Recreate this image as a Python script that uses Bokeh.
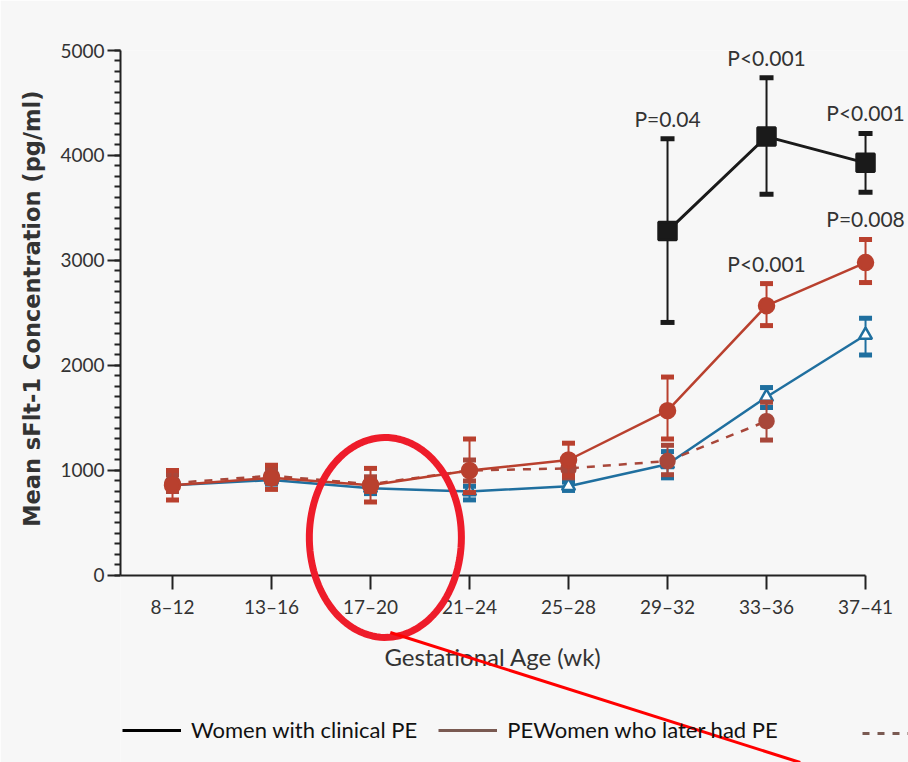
import numpy as np
from bokeh.plotting import figure
from bokeh.models import (ColumnDataSource, FixedTicker, SingleIntervalTicker, Range1d,
                          LabelSet, Legend, LegendItem, PolyAnnotation, Arrow, Title)
from bokeh.core.properties import value
from bokeh.embed import file_html
from bokeh.resources import INLINE

# ---------------- data ----------------
weeks = ["8–12", "13–16", "17–20", "21–24", "25–28", "29–32", "33–36", "37–41"]
week_idx = list(range(len(weeks)))

# Women with clinical PE (black squares)
clin_idx = [5, 6, 7]
clin_mean = [3280, 4180, 3930]
clin_lo = [2410, 3630, 3650]
clin_hi = [4160, 4740, 4210]

# Women who later had PE (red circles, solid)
later_mean = [860, 930, 860, 1000, 1100, 1570, 2570, 2980]
later_lo = [720, 820, 700, 790, 950, 1300, 2380, 2790]
later_hi = [1000, 1050, 1020, 1300, 1260, 1890, 2780, 3200]

# third group (red circles, dashed)
gh_idx = [0, 1, 2, 3, 4, 5, 6]
gh_mean = [880, 950, 870, 1000, 1020, 1090, 1470]
gh_lo = [800, 880, 800, 900, 930, 960, 1290]
gh_hi = [960, 1020, 940, 1100, 1110, 1240, 1650]

# controls (blue triangles)
ctrl_mean = [860, 910, 830, 800, 850, 1060, 1700, 2290]
ctrl_lo = [820, 870, 780, 720, 810, 930, 1600, 2100]
ctrl_hi = [900, 950, 870, 850, 890, 1180, 1790, 2450]

# P-value annotations
p_x = [5, 6, 7, 7, 6]
p_y = [4160, 4740, 4210, 3200, 2780]
p_text = ["P=0.04", "P<0.001", "P<0.001", "P=0.008", "P<0.001"]

# legend labels
legend_labels = ["Women with clinical PE", "PEWomen who later had PE", " "]

# red highlight ellipse (overlay) in data units
ell_cx, ell_cy, ell_rx, ell_ry = 2.15, 362, 0.768, 952
arrow_x0, arrow_y0, arrow_x1, arrow_y1 = 2.2, -543, 6.34, -1781

# ---------------- style ----------------
BG = "#f7f7f7"
FONT = "Lato"
BLACK = "#1a1a1a"
RED = "#b9402e"
REDL = "#a8473a"
BLUE = "#1f6f9f"
TXT = "#333333"
LEGBROWN = "#7a5a52"

p = figure(width=908, height=762, x_range=Range1d(-0.5253, 7.434), y_range=Range1d(-1781, 5000),
           output_backend="svg", toolbar_location=None,
           min_border_left=120, min_border_right=0, min_border_top=50, min_border_bottom=0,
           background_fill_color=BG, border_fill_color=BG, outline_line_color=None)
p.xgrid.visible = False
p.ygrid.visible = False

# axes
p.xaxis.fixed_location = 0
p.xaxis.bounds = (-0.5253, 7)
p.yaxis.bounds = (0, 5000)
p.xaxis.ticker = FixedTicker(ticks=week_idx)
p.xaxis.major_label_overrides = {i: w for i, w in zip(week_idx, weeks)}
p.yaxis.ticker = SingleIntervalTicker(interval=1000, num_minor_ticks=10)
for ax in (p.xaxis[0], p.yaxis[0]):
    ax.axis_line_color = "#222222"
    ax.axis_line_width = 2
    ax.major_tick_line_color = "#222222"
    ax.major_tick_line_width = 2
    ax.major_tick_in = 0
    ax.major_label_text_font = FONT
    ax.major_label_text_font_size = "19px"
    ax.major_label_text_color = TXT
    ax.axis_label_text_color = TXT
p.xaxis.major_tick_out = 14
p.xaxis.minor_tick_line_color = None
p.xaxis.major_label_standoff = 6
p.xaxis.axis_label = "Gestational Age (wk)"
p.xaxis.axis_label_text_font = FONT
p.xaxis.axis_label_text_font_size = "24px"
p.xaxis.axis_label_text_font_style = "normal"
p.xaxis.axis_label_standoff = 20

p.yaxis.major_tick_out = 13
p.yaxis.minor_tick_out = 6
p.yaxis.minor_tick_in = 0
p.yaxis.minor_tick_line_color = "#222222"
p.yaxis.minor_tick_line_width = 2
p.yaxis.major_label_standoff = 3

ytitle = Title(text="Mean sFlt-1 Concentration (pg/ml)", align="right", offset=40,
               text_font="DejaVu Sans", text_font_style="bold", text_font_size="22.5px",
               text_color=TXT, standoff=26)
p.add_layout(ytitle, "left")


def series(idx, mean, lo, hi, color, marker, size, lw, dash="solid", fill=None, capw=13):
    src = ColumnDataSource(dict(x=idx, y=mean, lo=lo, hi=hi))
    p.line("x", "y", source=src, line_color=color, line_width=lw, line_dash=dash)
    p.segment(x0="x", y0="lo", x1="x", y1="hi", source=src, line_color=color, line_width=2)
    p.rect(x="x", y="hi", width=capw, height=5, width_units="screen", height_units="screen",
           source=src, fill_color=color, line_color=None)
    p.rect(x="x", y="lo", width=capw, height=5, width_units="screen", height_units="screen",
           source=src, fill_color=color, line_color=None)
    p.scatter("x", "y", source=src, marker=marker, size=size,
              fill_color=fill if fill else color, line_color=color, line_width=2.5)


series(week_idx, ctrl_mean, ctrl_lo, ctrl_hi, BLUE, "triangle", 13, 2.5, fill="#ffffff")
series(gh_idx, gh_mean, gh_lo, gh_hi, REDL, "circle", 14, 2.5, dash="8 8")
series(week_idx, later_mean, later_lo, later_hi, RED, "circle", 15, 2.5)
series(clin_idx, clin_mean, clin_lo, clin_hi, BLACK, "square", 18, 3, capw=14)

# P-value labels
psrc = ColumnDataSource(dict(x=p_x, y=p_y, t=p_text))
p.add_layout(LabelSet(x="x", y="y", text="t", source=psrc, y_offset=8,
                      text_align="center", text_baseline="bottom",
                      text_font=value(FONT), text_font_size="21px", text_color=TXT))

# legend (proxy renderers placed outside the visible range)
off = ColumnDataSource(dict(x=[100, 101], y=[-5000, -5000]))
r1 = p.line("x", "y", source=off, line_color="#000000", line_width=3)
r2 = p.line("x", "y", source=off, line_color=LEGBROWN, line_width=3)
r3 = p.line("x", "y", source=off, line_color=LEGBROWN, line_width=3, line_dash="7 8")
leg = Legend(items=[LegendItem(label=legend_labels[0], renderers=[r1]),
                    LegendItem(label=legend_labels[1], renderers=[r2])],
             location=(2, 19), orientation="horizontal", padding=0, margin=0,
             spacing=21, glyph_width=59, label_standoff=10,
             border_line_color=None, background_fill_alpha=0,
             label_text_font=FONT, label_text_font_size="22px", label_text_color="#111111")
p.add_layout(leg, "center")
leg2 = Legend(items=[LegendItem(label=legend_labels[2], renderers=[r3])],
              location=(742, 19), orientation="horizontal", padding=0, margin=0,
              glyph_width=50, border_line_color=None, background_fill_alpha=0,
              label_text_font=FONT, label_text_font_size="22px")
p.add_layout(leg2, "center")

# red highlight overlay
th = np.linspace(0, 2 * np.pi, 120)
p.add_layout(PolyAnnotation(xs=list(ell_cx + ell_rx * np.cos(th)), ys=list(ell_cy + ell_ry * np.sin(th)),
                            fill_color=None, line_color="#ee1c2a", line_width=7, line_alpha=1))
p.add_layout(Arrow(end=None, x_start=arrow_x0, y_start=arrow_y0, x_end=arrow_x1, y_end=arrow_y1,
                   line_color="#ff0000", line_width=3))

open("out.html", "w").write(file_html(p, INLINE))
